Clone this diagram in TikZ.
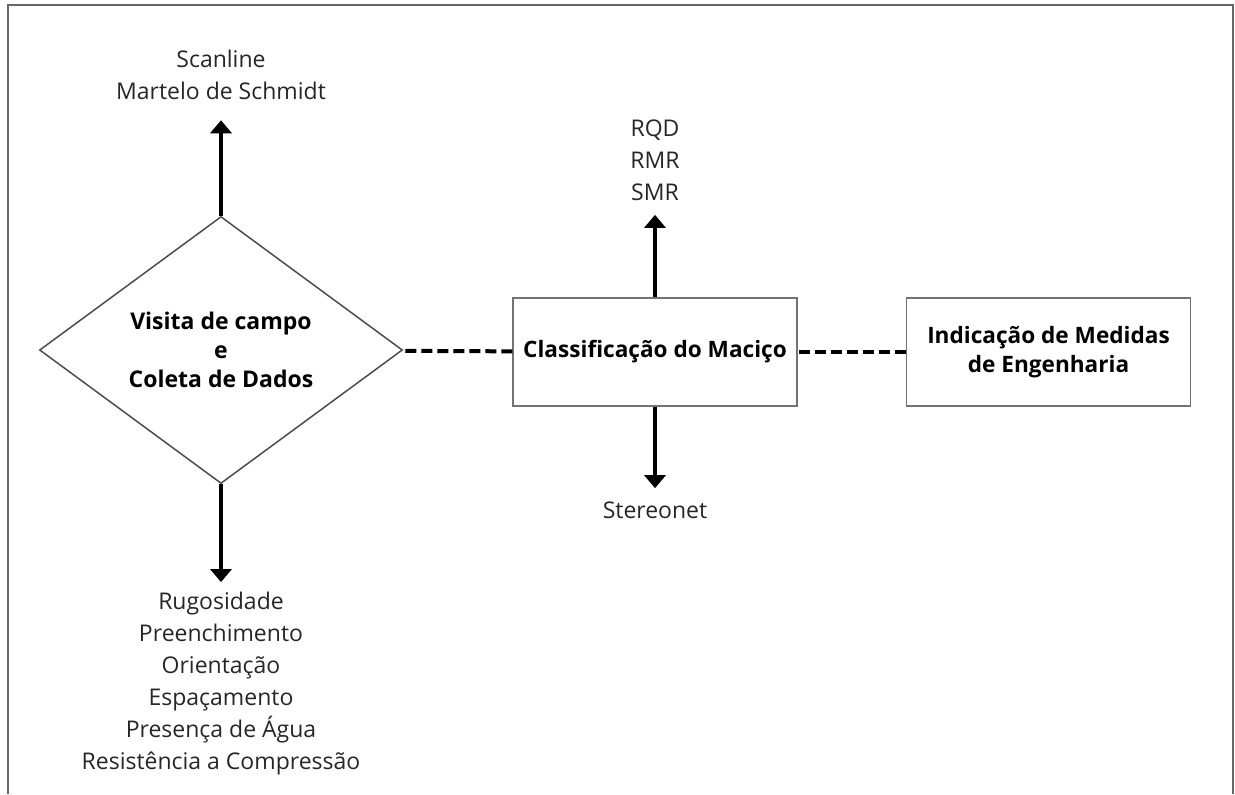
\documentclass[tikz,border=0pt]{standalone}
\usepackage{fontspec}
\setmainfont{Open Sans}
\usetikzlibrary{%
  arrows,%
  arrows.meta,%
  shapes,%
  positioning% wg. " of "
}

\begin{document}
\begin{tikzpicture}
[x=0.5pt, y=-0.5pt, draw=black, >={Triangle[length=6.5pt, width=10.5pt]},
moldura/.style={draw=black!60, line width=0.8pt},
decisao/.style={diamond, draw=black!70, line width=0.75pt, inner sep=0pt, minimum width=181.5pt, minimum height=133.5pt, font=\fontsize{11.5}{14.5}\selectfont\bfseries, align=center},
etapa/.style={rectangle, draw=black!55, line width=0.75pt, inner sep=0pt, minimum width=142pt, minimum height=54pt, font=\fontsize{11.3}{14.5}\selectfont\bfseries, align=center},
rotulo/.style={inner sep=5pt, text=black!85, font=\fontsize{11.5}{16}\selectfont, align=center},
seta/.style={line width=2pt},
liga/.style={line width=2pt, dash pattern=on 5.5pt off 2.5pt}]

\useasboundingbox (0,0) rectangle (1235,794);
\draw[moldura] (8,794) -- (8,5) -- (1233,5) -- (1233,794);

\node[decisao] (visita) at (221,350) {Visita de campo\\e\\Coleta de Dados};
\node[etapa] (classif) at (655,352) {Classificação do Maciço}
  edge [liga] (visita);
\node[etapa] (medidas) at (1048.5,352) {Indicação de Medidas\\de Engenharia}
  edge [liga] (classif);

\node[rotulo] (ensaios) at (221,75) {Scanline\\Martelo de Schmidt}
  edge [<-, seta, shorten <=5pt] (visita);
\node[rotulo] (parametros) at (221,684) {Rugosidade\\Preenchimento\\Orientação\\Espaçamento\\Presença de Água\\Resistência a Compressão}
  edge [<-, seta] (visita);
\node[rotulo] (indices) at (655,160) {RQD\\RMR\\SMR}
  edge [<-, seta, shorten <=2pt] (classif);
\node[rotulo] (stereo) at (655,510) {Stereonet}
  edge [<-, seta, shorten <=1.5pt] (classif);
\end{tikzpicture}
\end{document}
